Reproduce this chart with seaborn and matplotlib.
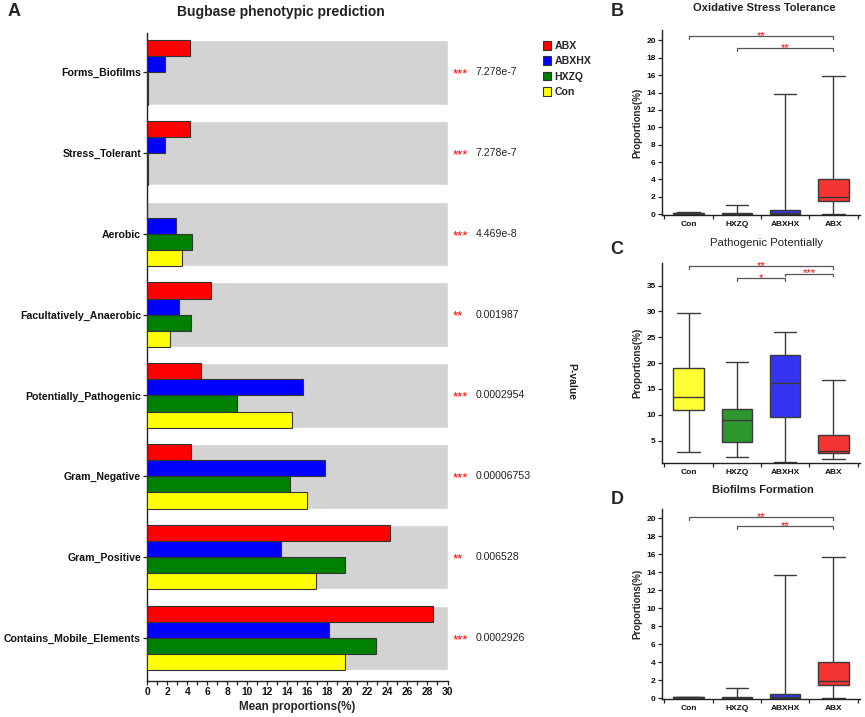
import numpy as np
import pandas as pd
import matplotlib
matplotlib.use("Agg")
import matplotlib.pyplot as plt
import seaborn as sns
from matplotlib.patches import Patch
from matplotlib.ticker import MultipleLocator, FixedLocator

# ---------------- data: panel A ----------------
categories = ["Forms_Biofilms", "Stress_Tolerant", "Aerobic", "Facultatively_Anaerobic",
              "Potentially_Pathogenic", "Gram_Negative", "Gram_Positive",
              "Contains_Mobile_Elements"]
groups = ["ABX", "ABXHX", "HXZQ", "Con"]
abx_mean = [4.3, 4.3, 0.0, 6.4, 5.4, 4.4, 24.3, 28.6]
abxhx_mean = [1.8, 1.8, 2.9, 3.2, 15.6, 17.8, 13.4, 18.2]
hxzq_mean = [0.03, 0.03, 4.5, 4.4, 9.0, 14.3, 19.8, 22.9]
con_mean = [0.03, 0.03, 3.5, 2.3, 14.5, 16.0, 16.9, 19.8]
stars_a = ["***", "***", "***", "**", "***", "***", "**", "***"]
p_values = ["7.278e-7", "7.278e-7", "4.469e-8", "0.001987", "0.0002954",
            "0.00006753", "0.006528", "0.0002926"]
x_max = 30

# ---------------- data: panels B-D (min, Q1, median, Q3, max) ----------------
box_order = ["Con", "HXZQ", "ABXHX", "ABX"]
oxi_con = [0.0, 0.05, 0.1, 0.15, 0.2]
oxi_hxzq = [0.0, 0.02, 0.05, 0.1, 1.1]
oxi_abxhx = [0.0, 0.05, 0.1, 0.5, 13.8]
oxi_abx = [0.05, 1.5, 2.0, 4.1, 15.9]

path_con = [2.7, 11.0, 13.4, 19.0, 29.7]
path_hxzq = [1.9, 4.7, 9.0, 11.2, 20.2]
path_abxhx = [0.9, 9.5, 16.1, 21.6, 26.1]
path_abx = [1.5, 2.5, 3.0, 6.1, 16.8]

bio_con = [0.0, 0.05, 0.1, 0.15, 0.2]
bio_hxzq = [0.0, 0.02, 0.05, 0.1, 1.1]
bio_abxhx = [0.0, 0.05, 0.1, 0.5, 13.7]
bio_abx = [0.05, 1.45, 1.9, 4.0, 15.7]

oxi_sig = [("Con", "ABX", 20.5, "**"), ("HXZQ", "ABX", 19.1, "**")]
path_sig = [("Con", "ABX", 38.7, "**"), ("HXZQ", "ABXHX", 36.4, "*"),
            ("ABXHX", "ABX", 37.3, "***")]
bio_sig = [("Con", "ABX", 20.15, "**"), ("HXZQ", "ABX", 19.1, "**")]

# ---------------- style ----------------
sns.set_theme(style="ticks")
plt.rcParams["font.family"] = ["Liberation Sans", "DejaVu Sans"]
plt.rcParams["axes.edgecolor"] = "#222222"
plt.rcParams["axes.linewidth"] = 1.0
plt.rcParams["xtick.color"] = "#222222"
plt.rcParams["ytick.color"] = "#222222"
plt.rcParams["xtick.labelcolor"] = "#111111"
plt.rcParams["ytick.labelcolor"] = "#111111"

bar_colors = {"ABX": "#FF0000", "ABXHX": "#0000FF", "HXZQ": "#008000", "Con": "#FFFF00"}
box_colors = {"Con": "#FFFF33", "HXZQ": "#2E962E", "ABXHX": "#3434F2", "ABX": "#F53434"}
edge = "#333333"

W, H = 865, 717
fig = plt.figure(figsize=(W / 100, H / 100), dpi=100)


def px_axes(left, top, right, bottom):
    return fig.add_axes([left / W, 1 - bottom / H, (right - left) / W, (bottom - top) / H])


# ---------------- panel A ----------------
axA = px_axes(147.3, 32.7, 447.5, 680.7)
dfA = pd.DataFrame({"category": categories, "ABX": abx_mean, "ABXHX": abxhx_mean,
                    "HXZQ": hxzq_mean, "Con": con_mean})
dfA = dfA.melt(id_vars="category", var_name="group", value_name="value")
sns.barplot(data=dfA, y="category", x="value", hue="group", order=categories,
            hue_order=groups, palette=bar_colors, orient="h", errorbar=None,
            width=0.8, saturation=1, edgecolor=edge, linewidth=0.8, legend=False,
            ax=axA, zorder=3)
axA.barh(np.arange(len(categories)), x_max, height=0.8, color="#D3D3D3", zorder=1)
axA.set_xlim(0, x_max)
axA.set_ylim(len(categories) - 0.47, -0.49)
axA.xaxis.set_major_locator(MultipleLocator(2))
axA.xaxis.set_minor_locator(MultipleLocator(1))
axA.tick_params(axis="x", which="both", length=3, width=0.9, pad=1.5)
axA.tick_params(axis="y", length=3, width=0.9, pad=1.5)
for lab in axA.get_xticklabels():
    lab.set_fontsize(7.4)
    lab.set_fontweight("bold")
for lab in axA.get_yticklabels():
    lab.set_fontsize(7.6)
    lab.set_fontweight("bold")
axA.set_ylabel("")
axA.set_xlabel("Mean proportions(%)", fontsize=8.4, fontweight="bold", labelpad=3)
sns.despine(ax=axA)

tr = axA.get_yaxis_transform()
for i, (s, p) in enumerate(zip(stars_a, p_values)):
    axA.annotate(s, xy=(1.018, i), xycoords=tr, xytext=(0, -1.5), textcoords="offset points",
                 ha="left", va="center", color="#FF0000", fontsize=9.5,
                 annotation_clip=False)
    axA.annotate(p, xy=(1.094, i), xycoords=tr, ha="left", va="center", color="#222222",
                 fontsize=7.6, annotation_clip=False)

fig.text(571 / W, 1 - 382 / H, "P-value", rotation=270, ha="center", va="center",
         fontsize=7.5, fontweight="bold", color="#222222")
fig.text(281 / W, 1 - 12 / H, "Bugbase phenotypic prediction", ha="center", va="center",
         fontsize=10, fontweight="bold", color="#222222")
fig.text(8 / W, 1 - 12 / H, "A", ha="left", va="center", fontsize=13, fontweight="bold")

handles = [Patch(facecolor=bar_colors[g], edgecolor=edge, linewidth=0.8, label=g) for g in groups]
fig.legend(handles=handles, loc="upper left", bbox_to_anchor=(543 / W, 1 - 41 / H),
           frameon=False, handlelength=0.8, handleheight=0.9, handletextpad=0.3,
           labelspacing=0.5, borderaxespad=0, borderpad=0,
           prop={"size": 7.6, "weight": "bold"})


# ---------------- panels B-D ----------------
def box_panel(ax, values, ylim, major, sig, yticks=None):
    df = pd.DataFrame({"group": np.repeat(box_order, [len(v) for v in values]),
                       "value": np.concatenate(values)})
    sns.boxplot(data=df, x="group", y="value", hue="group", order=box_order,
                hue_order=box_order, palette=box_colors, whis=(0, 100), width=0.63,
                saturation=1, linecolor="#3a3a3a", linewidth=1.0, showfliers=False,
                legend=False, capwidths=0.47, ax=ax)
    ax.set_xlim(-0.55, 3.55)
    ax.set_ylim(*ylim)
    if yticks is not None:
        ax.yaxis.set_major_locator(FixedLocator(yticks))
    else:
        ax.yaxis.set_major_locator(MultipleLocator(major))
    ax.set_xticks(range(len(box_order)))
    ax.set_xticklabels(box_order)
    ax.xaxis.set_minor_locator(FixedLocator([-0.5, 0.5, 1.5, 2.5, 3.5]))
    ax.tick_params(axis="x", which="major", length=0, pad=4)
    ax.tick_params(axis="x", which="minor", length=3, width=0.9)
    ax.tick_params(axis="y", length=3, width=0.9, pad=1.5)
    for lab in ax.get_xticklabels() + ax.get_yticklabels():
        lab.set_fontsize(6)
        lab.set_fontweight("bold")
    ax.set_xlabel("")
    ax.set_ylabel("Proportions(%)", fontsize=7, fontweight="bold", labelpad=3)
    sns.despine(ax=ax)
    span = ylim[1] - ylim[0]
    for g1, g2, h, s in sig:
        x1, x2 = box_order.index(g1), box_order.index(g2)
        d = span * 0.014
        ax.plot([x1, x1, x2, x2], [h - d, h, h, h - d], color="#555555", lw=0.9,
                clip_on=False)
        ax.annotate(s, xy=((x1 + x2) / 2, h), xytext=(0, -3.5), textcoords="offset points",
                    ha="center", va="bottom", color="#FF0000", fontsize=8,
                    annotation_clip=False)


axB = px_axes(662, 30, 860, 215)
box_panel(axB, [oxi_con, oxi_hxzq, oxi_abxhx, oxi_abx], (-0.1, 21.2), 2, oxi_sig)
axC = px_axes(662, 263.3, 860, 463.3)
box_panel(axC, [path_con, path_hxzq, path_abxhx, path_abx], (0.6, 39.3), 5, path_sig,
          yticks=[5, 10, 15, 20, 25, 30, 35])
axD = px_axes(662, 509.3, 860, 699.3)
box_panel(axD, [bio_con, bio_hxzq, bio_abxhx, bio_abx], (-0.1, 21.0), 2, bio_sig)

fig.text(764 / W, 1 - 8 / H, "Oxidative Stress Tolerance", ha="center", va="center",
         fontsize=8, fontweight="bold", color="#222222")
fig.text(767 / W, 1 - 243 / H, "Pathogenic Potentially", ha="center", va="center",
         fontsize=8.2, color="#222222")
fig.text(763 / W, 1 - 490 / H, "Biofilms Formation", ha="center", va="center",
         fontsize=8, fontweight="bold", color="#222222")

fig.text(617 / W, 1 - 11 / H, "B", ha="center", va="center", fontsize=13, fontweight="bold")
fig.text(617 / W, 1 - 250 / H, "C", ha="center", va="center", fontsize=13, fontweight="bold")
fig.text(617 / W, 1 - 499 / H, "D", ha="center", va="center", fontsize=13, fontweight="bold")

fig.savefig("out.png", dpi=100, facecolor="white")
